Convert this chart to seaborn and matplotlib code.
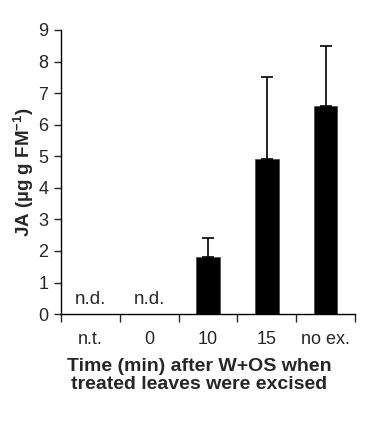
import matplotlib
matplotlib.use("Agg")
import matplotlib.pyplot as plt
import seaborn as sns
import pandas as pd
import numpy as np

# data
categories = ["n.t.", "0", "10", "15", "no ex."]
ja_mean = [0.0, 0.0, 1.8, 4.9, 6.6]
ja_se = [0.0, 0.0, 0.6, 2.6, 1.9]
not_detected = [True, True, False, False, False]

df = pd.DataFrame({"time": categories, "ja": ja_mean})

sns.set_style("white")
plt.rcParams["font.family"] = ["Liberation Sans", "DejaVu Sans"]
plt.rcParams["mathtext.fontset"] = "custom"
plt.rcParams["mathtext.rm"] = "Liberation Sans"
plt.rcParams["mathtext.bf"] = "Liberation Sans:bold"

fig = plt.figure(figsize=(3.65, 4.28), dpi=100)
ax = fig.add_axes([0.167, 0.266, 0.806, 0.664])

sns.barplot(data=df, x="time", y="ja", order=categories, color="black",
            width=0.4, edgecolor="#444444", linewidth=0.5, ax=ax)

# upper error bars only
xpos = np.arange(len(categories))
mask = [not nd for nd in not_detected]
ax.errorbar(xpos[mask], np.array(ja_mean)[mask],
            yerr=[np.zeros(sum(mask)), np.array(ja_se)[mask]],
            fmt="none", ecolor="black", elinewidth=1.2, capsize=4, capthick=1.2)

for i, nd in enumerate(not_detected):
    if nd:
        ax.text(i, 0.2, "n.d.", ha="center", va="bottom", fontsize=13.5)

ax.set_ylim(0, 9)
ax.set_xlim(-0.5, len(categories) - 0.5)
ax.set_yticks(range(0, 10))
ax.set_xticks(np.arange(len(categories) + 1) - 0.5, minor=True)
ax.tick_params(axis="x", which="major", length=0, labelsize=13, pad=12)
ax.tick_params(axis="x", which="minor", length=6, width=1, direction="out", bottom=True)
ax.tick_params(axis="y", length=5, width=1, direction="out", left=True, labelsize=13, pad=4)

for side in ["top", "right"]:
    ax.spines[side].set_visible(False)
for side in ["left", "bottom"]:
    ax.spines[side].set_color("black")
    ax.spines[side].set_linewidth(1)

ax.set_ylabel("JA (\u00b5g g FM$\\mathbf{^{-1}}$)", fontsize=13.5, fontweight="bold", labelpad=2)
ax.set_xlabel("Time (min) after W+OS when\ntreated leaves were excised",
              fontsize=14, fontweight="bold", linespacing=1.05)
ax.xaxis.set_label_coords(0.47, -0.155)

fig.savefig("out.png", dpi=100)
